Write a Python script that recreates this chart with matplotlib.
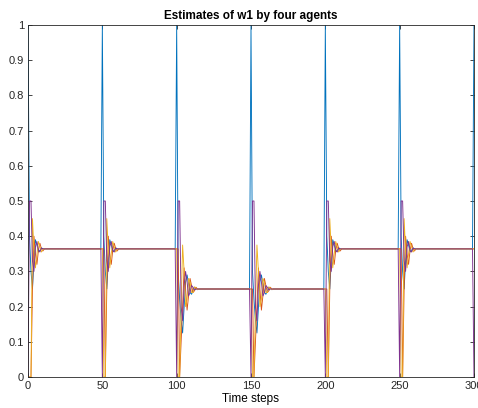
import numpy as np
import matplotlib.pyplot as plt

plt.rcParams['font.family'] = ['Liberation Sans', 'DejaVu Sans']

PERIOD = 50
t_end = 300

# consensus value reached in each 50-step block
consensus = [0.364, 0.364, 0.25, 0.25, 0.364, 0.364]
block_type = ['a', 'a', 'b', 'b', 'a', 'a']

# transient right after a reset (None = still holding the previous value)
blue_a = [1, 0.4, 0.3, 0.25, 0.33, 0.39, 0.375, 0.355, 0.36, 0.367, 0.364]
red_a = [None, None, 0, 0.25, 0.40, 0.35, 0.32, 0.36, 0.38, 0.365, 0.358, 0.364]
yellow_a = [None, 0, 0, 0.45, 0.36, 0.31, 0.35, 0.385, 0.37, 0.355, 0.362, 0.365]
purple_a = [0, 0.5, 0.5, 0.33, 0.30, 0.37, 0.385, 0.36, 0.355, 0.366, 0.364]

blue_b = [1, 0.3, 0.22, 0.16, 0.125, 0.2, 0.27, 0.29, 0.265, 0.24, 0.235,
          0.245, 0.255, 0.252, 0.248, 0.25]
red_b = [None, None, 0, 0.1, 0.2, 0.31, 0.25, 0.19, 0.23, 0.28, 0.26, 0.24,
         0.245, 0.255, 0.25]
yellow_b = [None, 0, 0, 0.2, 0.375, 0.3, 0.2, 0.22, 0.28, 0.27, 0.24, 0.24,
            0.256, 0.253, 0.248, 0.25]
purple_b = [0, 0.5, 0.5, 0.2, 0.16, 0.26, 0.3, 0.27, 0.23, 0.24, 0.26,
            0.255, 0.247, 0.25]

agents = {
    'blue': ({'a': blue_a, 'b': blue_b}, '#0072BD'),
    'red': ({'a': red_a, 'b': red_b}, '#D95319'),
    'yellow': ({'a': yellow_a, 'b': yellow_b}, '#EDB120'),
    'purple': ({'a': purple_a, 'b': purple_b}, '#7E2F8E'),
}


def build(trans):
    vals = []
    prev = 0
    for blk, c in zip(block_type + ['a'], consensus + [consensus[0]]):
        tr = trans[blk]
        for k in range(PERIOD):
            if k < len(tr):
                v = prev if tr[k] is None else tr[k]
            else:
                v = c
            vals.append(v)
        prev = c
    return np.array(vals[:t_end + 1])


t = np.arange(t_end + 1)

fig = plt.figure(figsize=(4.78, 4.08), dpi=100)
ax = fig.add_axes([0.0586, 0.076, 0.9330, 0.8627])

for name, (trans, col) in agents.items():
    ax.plot(t, build(trans), color=col, lw=0.65)

ax.set_xlim(0, 300)
ax.set_ylim(0, 1)
ax.set_xticks(np.arange(0, 301, 50))
ax.set_yticks(np.arange(0, 1.01, 0.1))
ax.set_yticklabels(['0', '0.1', '0.2', '0.3', '0.4', '0.5', '0.6', '0.7', '0.8', '0.9', '1'])
ax.tick_params(direction='in', length=3, width=0.6, top=True, right=True,
               labelsize=8, colors='#262626', pad=3)
for s in ax.spines.values():
    s.set_color('#262626')
    s.set_linewidth(0.6)

ax.set_title('Estimates of w1 by four agents', fontsize=8.5, fontweight='bold', pad=4)
ax.set_xlabel('Time steps', fontsize=8.5, labelpad=1)

fig.savefig('out.png', dpi=100)
